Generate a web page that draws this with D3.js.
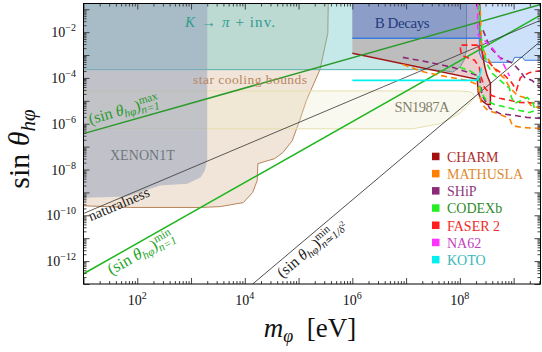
<!DOCTYPE html>
<html>
<head>
<meta charset="utf-8">
<style>
html, body { margin: 0; padding: 0; background: #fff; }
svg { display: block; font-family: "Liberation Serif", "DejaVu Serif", serif; }
svg text { white-space: pre; }
</style>
<script src="https://cdn.jsdelivr.net/npm/d3@7"></script>
</head>
<body>
<div id="chart"></div>
<script>
// axis ranges: m_phi in eV, sin theta
var massDomain = [10, 3.16e9];
var sinDomain = [1e-13, 0.178];
var xTickExp = [2, 4, 6, 8];
var yTickExp = [-2, -4, -6, -8, -10, -12];

// excluded regions, points are [m_phi (eV), sin theta]
var starCooling = [[1,1],[3.6e5,1],[3.5e5,8.9e-3],[2.5e5,2.3e-4],[1.4e5,1.05e-5],[1.05e5,1.4e-6],
  [7.6e4,1.8e-7],[5.1e4,5.5e-8],[3.6e4,3.0e-8],[1.75e4,1.8e-8],[1.7e4,3.3e-9],[1.4e4,1.0e-9],
  [9.4e3,3.6e-10],[3.5e3,2.4e-10],[1.5e3,2.2e-10],[74,2.2e-10],[10,2.6e-10],[1,2.6e-10]];
var sn1987a = [[1,2.7e-5],[1.0e8,2.7e-5],[1.5e8,2.5e-5],[1.75e8,2.1e-5],[1.9e8,1.4e-5],
  [1.4e8,6.3e-6],[1.0e8,2.8e-6],[4.3e7,1.0e-6],[1.3e7,6.0e-7],[1,6.0e-7]];
var kToPi = [[1,1],[1,2.3e-4],[2.4e7,2.3e-4],[5e7,2.1e-4],[7.3e7,1.8e-4],[1.0e8,2.9e-4],
  [1.2e8,6e-4],[1.33e8,1.6e-3],[1.33e8,1]];
var xenon1t = [[1,1],[2.0e3,1],[2.0e3,2.5e-8],[1.8e3,8.9e-9],[1.5e3,4.5e-9],[850,2.4e-9],
  [265,2.0e-9],[65,6.6e-10],[10,5.9e-10],[1,5.9e-10]];
var charmEdge = [[1e6,1.2e-3],[2.1e8,8.7e-5],[2.2e8,2.3e-5],[2.5e8,1.05e-5],[3.2e8,6.9e-6],
  [3.7e8,6.9e-6],[3.7e8,5.8e-5],[3.2e8,1.3e-4],[2.9e8,3.2e-4],[2.6e8,1.3e-3],[2.4e8,1.2e-2],[2.3e8,1]];
var bDecays = [[1e6,1],[2.3e8,1],[2.3e8,5.4e-3],[1e6,5.4e-3]];
var bDecaysEdge = [[1e6,5.4e-3],[2.3e8,5.4e-3]];
var bluePatch = [[2.3e8,1],[2.3e8,1.2e-3],[2.6e8,6.5e-4],[3.2e8,4.8e-4],[9.5e8,4.8e-4],[1.04e9,7.9e-4],
  [1.46e9,7.9e-4],[1.6e9,5.9e-4],[1e10,5.9e-4],[1e10,1]];
var koto = [[1e6,7.8e-5],[2.05e8,7.8e-5],[2.3e8,1.05e-4],[2.5e8,2.6e-4]];

// projected sensitivities (dashed)
var mathuslaLow = [[8.7e6,3.9e-4],[2.0e7,1.9e-4],[4.2e7,1.3e-4],[1.33e8,7.8e-5],[2.13e8,5.2e-5],
  [2.3e8,2.3e-5],[2.5e8,7.8e-6],[3.3e8,3.8e-6],[5.0e8,2.8e-6],[8.4e8,1.7e-6],[9.5e8,8.3e-7],
  [1.4e9,6.9e-7],[3.2e9,6.2e-7]];
var mathuslaHigh = [[2.4e8,0.091],[2.5e8,3.6e-3],[2.85e8,1.3e-3],[3.3e8,7.2e-4],[4.0e8,3.5e-4],
  [5.0e8,1.7e-4],[6.8e8,9.5e-5],[8.4e8,3.9e-5],[1.18e9,1.7e-5],[1.6e9,1.4e-5],[2.1e9,6.3e-6],[3.2e9,4.7e-6]];
var shipLow = [[8.7e6,7.9e-4],[2.7e7,4.8e-4],[7.3e7,2.9e-4],[1.5e8,1.7e-4],[2.3e8,1.2e-4],
  [2.6e8,1.7e-5],[3.6e8,4.7e-6],[5.5e8,2.8e-6],[1.04e9,2.3e-6],[1.75e9,1.9e-6],[3.2e9,1.7e-6]];
var shipHigh = [[2.7e8,0.012],[3.6e8,2.2e-3],[5.5e8,7.9e-4],[9.5e8,4.4e-4],[1.29e9,2.1e-4],
  [1.6e9,1.05e-4],[2.2e9,7.8e-5],[3.2e9,3.5e-5]];
var codexb = [[1.0e8,2.9e-4],[1.5e8,2.1e-4],[2.13e8,1.3e-4],[2.5e8,2.3e-5],[3.1e8,1.05e-5],
  [4.4e8,6.9e-6],[7.7e8,5.1e-6],[1.29e9,3.8e-6],[1.95e9,3.1e-6],[2.5e9,3.8e-6],[2.3e9,7.8e-6],
  [1.8e9,1.4e-5],[1.4e9,1.05e-5],[1.04e9,7.8e-6],[9.1e8,1.4e-5],[8.4e8,3.5e-5],[6.2e8,6.4e-5],
  [4.0e8,1.6e-4],[3.3e8,3.5e-4],[2.7e8,1.6e-3],[2.4e8,0.012],[2.3e8,0.15]];
var faserLow = [[2.13e8,2.7e-3],[1.0e8,2.7e-3],[1.07e8,9.7e-4],[1.33e8,7.9e-4],[1.88e8,5.9e-4],
  [2.3e8,2.9e-4],[2.5e8,1.05e-4],[2.85e8,3.9e-5],[3.9e8,1.7e-5],[5.5e8,1.3e-5],[8.4e8,1.05e-5],
  [1.29e9,8.5e-6],[3.2e9,7.8e-6]];
var faserHigh = [[2.13e8,2.7e-3],[2.85e8,7.9e-4],[4.4e8,2.6e-4],[6.8e8,1.3e-4],[9.1e8,6.4e-5],
  [1.13e9,2.9e-5],[1.34e9,1.05e-4],[1.95e9,1.7e-4],[3.2e9,2.1e-4]];
var na62 = [[2.13e8,0.178],[2.13e8,0.020],[2.2e8,7.2e-3],[2.85e8,4.4e-3],[3.9e8,2.2e-3],
  [5.5e8,7.9e-4],[6.8e8,3.2e-4],[8.4e8,1.2e-4]];

// theory lines (straight in log-log)
var sinMax = [[10,3.7e-7],[3.16e9,0.16]];
var sinMinN1 = [[10,2.8e-13],[3.16e9,0.055]];
var naturalness = [[10,1.2e-10],[3.16e9,0.033]];
var sinMinDelta = [[1.4e4,1e-13],[3.16e9,4.0e-3]];

var legendNames = ["CHARM", "MATHUSLA", "SHiP", "CODEXb", "FASER 2", "NA62", "KOTO"];
var legendColors = ["#a50f0f", "#ff8000", "#8b2a76", "#22ee22", "#ff1f1f", "#ff33ff", "#00f0f0"];
var legendTextColors = ["#b02a2a", "#e08a30", "#8e3a80", "#2e8a2e", "#f02a2a", "#c040c0", "#3ab8b8"];

var W = 542, H = 352;
var plot = {left: 83.5, right: 540.5, top: 3.5, bottom: 284};

var svg = d3.select("#chart").append("svg").attr("width", W).attr("height", H);

var x = d3.scaleLog().domain(massDomain).range([plot.left, plot.right]);
var y = d3.scaleLog().domain(sinDomain).range([plot.bottom, plot.top]);

svg.append("clipPath").attr("id", "clip").append("rect")
  .attr("x", plot.left).attr("y", plot.top)
  .attr("width", plot.right - plot.left).attr("height", plot.bottom - plot.top);

var g = svg.append("g").attr("clip-path", "url(#clip)");

var line = d3.line().x(function(d) { return x(d[0]); }).y(function(d) { return y(d[1]); });
var area = d3.line().x(function(d) { return x(d[0]); }).y(function(d) { return y(d[1]); }).curve(d3.curveLinearClosed);

var region = function(pts, fill, stroke) {
  g.append("path").attr("d", area(pts)).attr("fill", fill)
    .attr("stroke", stroke || "none").attr("stroke-width", 1);
};

region(starCooling, "rgba(222,192,165,0.42)", "#b5845a");
region(sn1987a, "rgba(240,236,205,0.3)", "#e6dfae");
region(kToPi, "rgba(110,200,200,0.4)", "#56b4ae");
region(xenon1t, "rgba(145,160,185,0.5)");
region(charmEdge.concat([[1e6,1]]), "rgba(170,60,60,0.25)");
region(bDecays, "rgba(80,120,210,0.45)");
region(bluePatch, "rgba(130,180,245,0.4)", "#3a7be0");

g.append("path").attr("d", line(bDecaysEdge)).attr("fill", "none")
  .attr("stroke", "#3a7be0").attr("stroke-width", 1.4);
g.append("path").attr("d", line(charmEdge)).attr("fill", "none")
  .attr("stroke", "#a31515").attr("stroke-width", 1.5);

// theory lines
var theory = [
  {pts: sinMax, c: "#2b9a2b", w: 1.5},
  {pts: sinMinN1, c: "#1fb51f", w: 1.5},
  {pts: naturalness, c: "#333", w: 0.8},
  {pts: sinMinDelta, c: "#222", w: 0.8}
];
theory.forEach(function(t) {
  g.append("path").attr("d", line(t.pts)).attr("fill", "none")
    .attr("stroke", t.c).attr("stroke-width", t.w);
});

// dashed projections
var projections = [
  {pts: mathuslaLow, c: legendColors[1]},
  {pts: mathuslaHigh, c: legendColors[1]},
  {pts: shipLow, c: legendColors[2]},
  {pts: shipHigh, c: legendColors[2]},
  {pts: faserLow, c: legendColors[4]},
  {pts: faserHigh, c: legendColors[4]},
  {pts: codexb, c: legendColors[3]},
  {pts: na62, c: legendColors[5]}
];
projections.forEach(function(p) {
  g.append("path").attr("d", line(p.pts)).attr("fill", "none")
    .attr("stroke", p.c).attr("stroke-width", 1.6).attr("stroke-dasharray", "6,4");
});
g.append("path").attr("d", line(koto)).attr("fill", "none")
  .attr("stroke", legendColors[6]).attr("stroke-width", 1.6);

// ticks
var xMaj = [], xMin = [], yMaj = [], yMin = [];
for (var d = 1; d <= 9; d++) {
  xMaj.push(Math.pow(10, d));
  for (var k = 2; k <= 9; k++) if (k * Math.pow(10, d) <= massDomain[1]) xMin.push(k * Math.pow(10, d));
}
for (var e = -13; e <= -1; e++) {
  yMaj.push(Math.pow(10, e));
  for (var k2 = 2; k2 <= 9; k2++) if (k2 * Math.pow(10, e) <= sinDomain[1]) yMin.push(k2 * Math.pow(10, e));
}
var axes = [
  [d3.axisBottom(x), "translate(0," + plot.bottom + ")", xMaj, xMin],
  [d3.axisTop(x), "translate(0," + plot.top + ")", xMaj, xMin],
  [d3.axisLeft(y), "translate(" + plot.left + ",0)", yMaj, yMin],
  [d3.axisRight(y), "translate(" + plot.right + ",0)", yMaj, yMin]
];
axes.forEach(function(a) {
  [[a[2], 6], [a[3], 3]].forEach(function(s) {
    svg.append("g").attr("transform", a[1]).attr("color", "#444")
      .call(a[0].tickValues(s[0]).tickSize(-s[1]).tickFormat(""))
      .call(function(sel) { sel.select(".domain").remove(); });
  });
});

svg.append("rect").attr("x", plot.left).attr("y", plot.top)
  .attr("width", plot.right - plot.left).attr("height", plot.bottom - plot.top)
  .attr("fill", "none").attr("stroke", "#000").attr("stroke-width", 1);

// tick labels
xTickExp.forEach(function(p) {
  var t = svg.append("text").attr("x", x(Math.pow(10, p))).attr("y", 305)
    .attr("text-anchor", "middle").attr("font-size", 14).attr("fill", "#111");
  t.append("tspan").text("10");
  t.append("tspan").attr("dy", -6).attr("font-size", 10).text(p);
});
yTickExp.forEach(function(p) {
  var t = svg.append("text").attr("x", 76).attr("y", y(Math.pow(10, p)) + 5)
    .attr("text-anchor", "end").attr("font-size", 14).attr("fill", "#111");
  t.append("tspan").text("10");
  t.append("tspan").attr("dy", -6).attr("font-size", 10).text("\u2212" + (-p));
});

// axis titles
var yt = svg.append("text").attr("transform", "translate(29,149) rotate(-90)")
  .attr("text-anchor", "middle").attr("font-size", 30).attr("fill", "#111");
yt.append("tspan").text("sin ");
yt.append("tspan").attr("font-style", "italic").text("θ");
yt.append("tspan").attr("font-style", "italic").attr("font-size", 21).attr("dy", 6).text("hφ");

var xt = svg.append("text").attr("x", 310).attr("y", 337)
  .attr("text-anchor", "middle").attr("font-size", 27).attr("fill", "#111");
xt.append("tspan").attr("font-style", "italic").text("m");
xt.append("tspan").attr("font-style", "italic").attr("font-size", 18).attr("dy", 5).text("φ");
xt.append("tspan").attr("dy", -5).text("  [eV]");

// region labels, position = [m, sin] of baseline start
var regionLabels = [
  {at: [2.6e6, 0.0158], t: "B Decays", c: "#253a80", s: 15, len: 55},
  {at: [1.09e3, 5.6e-5], t: "star cooling bounds", c: "#b98560", s: 13.5, len: 114},
  {at: [6.1e6, 3.2e-6], t: "SN1987A", c: "#7f7f68", s: 14.5, len: 55},
  {at: [31, 2.6e-8], t: "XENON1T", c: "#6f767d", s: 14, len: 65}
];
regionLabels.forEach(function(r) {
  svg.append("text").attr("x", x(r.at[0])).attr("y", y(r.at[1]))
    .attr("font-size", r.s).attr("fill", r.c)
    .attr("textLength", r.len).attr("lengthAdjust", "spacing").text(r.t);
});
var kp = svg.append("text").attr("x", x(775)).attr("y", y(0.0168))
  .attr("font-size", 15).attr("fill", "#2f9c8f").attr("textLength", 90).attr("lengthAdjust", "spacing");
kp.append("tspan").attr("font-style", "italic").text("K");
kp.append("tspan").text(" \u2192 ");
kp.append("tspan").attr("font-style", "italic").text("π");
kp.append("tspan").text(" + inv.");

// labels along theory lines
var mathLabel = function(sel, parts, base) {
  var cx = 0, supStart = 0, supEnd = 0;
  parts.forEach(function(p) {
    var px = p.under ? supStart : cx;
    var t = sel.append("text").attr("x", px).attr("y", p.dy || 0)
      .attr("font-size", base * (p.s || 1))
      .attr("font-style", p.it ? "italic" : null).text(p.t);
    var w = t.node().getComputedTextLength();
    if (p.over) { supStart = px; supEnd = px + w; cx = px + w; }
    else if (p.under) { cx = Math.max(supEnd, px + w); }
    else cx = px + w;
  });
};
var sinParts = function(sup, sub) {
  return [{t: "(sin "}, {t: "θ", it: 1}, {t: "hφ", it: 1, s: 0.7, dy: 3}, {t: ")"},
    {t: sup, s: 0.7, dy: -6, over: 1}, {t: sub, it: 1, s: 0.7, dy: 4, under: 1}];
};
var onLine = function(pts, m) {
  var slope = Math.log(pts[1][1] / pts[0][1]) / Math.log(pts[1][0] / pts[0][0]);
  return pts[0][1] * Math.pow(m / pts[0][0], slope);
};
var lineLabels = [
  {pts: sinMax, m: 14.5, off: -7, c: "#2b9a2b", size: 16, parts: sinParts("max", "n=1")},
  {pts: sinMinN1, m: 24, off: 15, c: "#1fa51f", size: 16.5, parts: sinParts("min", "n=1")},
  {pts: naturalness, m: 11.5, off: 10, c: "#222", size: 14.5, parts: [{t: "naturalness"}]},
  {pts: sinMinDelta, m: 3.3e4, off: 15, c: "#222", size: 15.5,
    parts: sinParts("min", "n≃1/δ").concat([{t: "2", s: 0.5, dy: -1}])}
];
lineLabels.forEach(function(l) {
  var p0 = l.pts[0], p1 = l.pts[1];
  var ang = Math.atan2(y(p1[1]) - y(p0[1]), x(p1[0]) - x(p0[0])) * 180 / Math.PI;
  var lg = svg.append("g")
    .attr("transform", "translate(" + x(l.m) + "," + y(onLine(l.pts, l.m)) + ") rotate(" + ang + ") translate(0," + l.off + ")")
    .attr("fill", l.c);
  mathLabel(lg, l.parts, l.size);
});

// legend
var leg = svg.append("g");
legendNames.forEach(function(n, i) {
  var by = 161.7 + i * 17.2;
  leg.append("rect").attr("x", 432).attr("y", by - 9).attr("width", 7.5).attr("height", 7.5)
    .attr("fill", legendColors[i]);
  leg.append("text").attr("x", 447).attr("y", by).attr("font-size", 14)
    .attr("fill", legendTextColors[i]).text(n);
});
</script>
</body>
</html>
